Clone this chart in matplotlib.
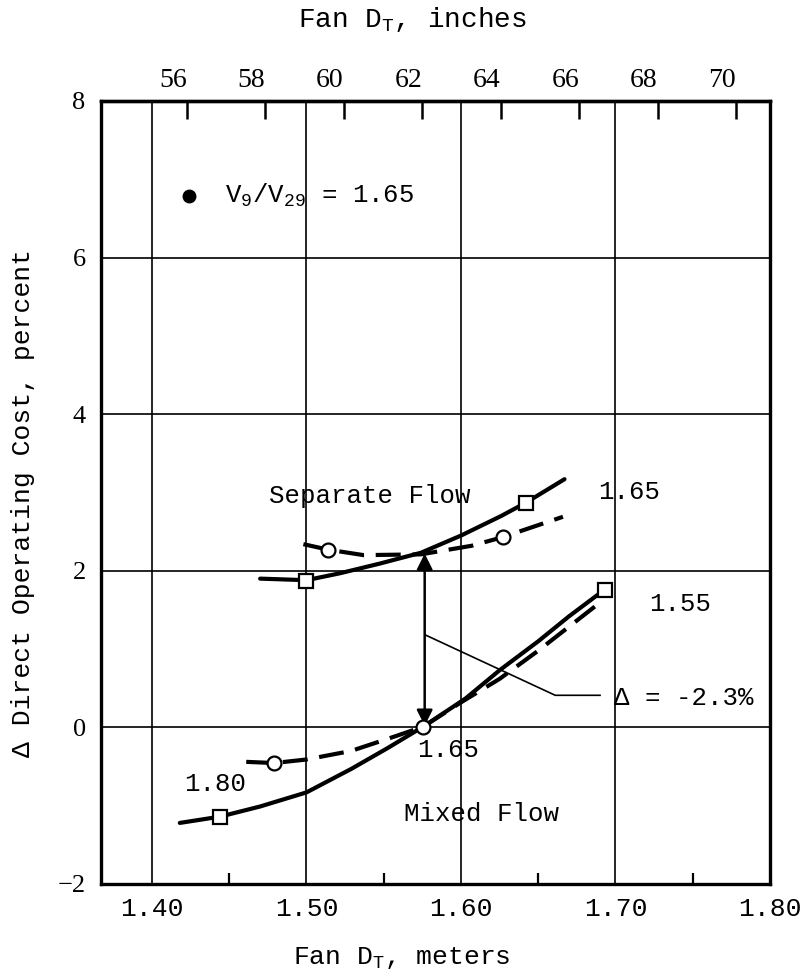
import matplotlib
matplotlib.use("Agg")
import matplotlib.pyplot as plt
import numpy as np

plt.rcParams['font.family'] = ['Liberation Mono', 'DejaVu Sans Mono']
plt.rcParams['mathtext.default'] = 'regular'

# ---- data ----
sep_solid_x = [1.470, 1.500, 1.522, 1.547, 1.574, 1.600, 1.626, 1.642, 1.667]
sep_solid_y = [1.90, 1.88, 1.97, 2.09, 2.23, 2.45, 2.70, 2.87, 3.17]
sep_solid_mx = [1.500, 1.642]
sep_solid_my = [1.87, 2.87]

sep_dash_x = [1.498, 1.514, 1.537, 1.574, 1.607, 1.627, 1.666]
sep_dash_y = [2.34, 2.27, 2.20, 2.21, 2.32, 2.43, 2.69]
sep_dash_mx = [1.514, 1.627]
sep_dash_my = [2.27, 2.43]

mix_solid_x = [1.418, 1.444, 1.470, 1.500, 1.529, 1.552, 1.5756, 1.603, 1.625, 1.650, 1.670, 1.693]
mix_solid_y = [-1.22, -1.14, -1.01, -0.83, -0.53, -0.27, 0.01, 0.37, 0.73, 1.10, 1.42, 1.76]
mix_solid_mx = [1.444, 1.693]
mix_solid_my = [-1.14, 1.76]

mix_dash_x = [1.461, 1.479, 1.500, 1.529, 1.558, 1.5756, 1.600, 1.625, 1.650, 1.689]
mix_dash_y = [-0.44, -0.455, -0.41, -0.30, -0.11, 0.01, 0.32, 0.62, 0.98, 1.58]
mix_dash_mx = [1.479, 1.5756]
mix_dash_my = [-0.455, 0.01]

x_major = [1.40, 1.50, 1.60, 1.70, 1.80]
x_minor = [1.45, 1.55, 1.65, 1.75]
x_labels = ['1.40', '1.50', '1.60', '1.70', '1.80']
y_major = [-2, 0, 2, 4, 6, 8]
y_labels = ['\u22122', '0', '2', '4', '6', '8']
top_ticks = [56, 58, 60, 62, 64, 66, 68, 70]

delta_x = 1.5765
delta_top, delta_bot = 2.22, 0.02
leader_x = [1.577, 1.661, 1.690]
leader_y = [1.18, 0.41, 0.41]

# ---- figure ----
fig = plt.figure(figsize=(8, 9.75), dpi=100)
ax = fig.add_axes([101/800, 91/975, 669/800, 783/975])
ax.set_xlim(1.367, 1.80)
ax.set_ylim(-2, 8)

for s in ax.spines.values():
    s.set_linewidth(2.4)

ax.set_xticks(x_major)
ax.set_xticklabels(x_labels, fontsize=19)
ax.set_xticks(x_minor, minor=True)
ax.set_yticks(y_major)
ax.set_yticklabels(y_labels, fontsize=19, family='Liberation Serif')
ax.tick_params(axis='x', which='major', length=0, pad=9)
ax.tick_params(axis='x', which='minor', direction='in', length=8, width=1.6)
ax.tick_params(axis='y', which='major', length=0, pad=11)
ax.grid(True, which='major', color='black', lw=1.2)
ax.set_axisbelow(True)

lw = 3.0
dash = (0, (6, 2.8))
ax.plot(sep_solid_x, sep_solid_y, color='black', lw=lw, solid_capstyle='round')
ax.plot(sep_dash_x, sep_dash_y, color='black', lw=lw, linestyle=dash)
ax.plot(mix_solid_x, mix_solid_y, color='black', lw=lw, solid_capstyle='round')
ax.plot(mix_dash_x, mix_dash_y, color='black', lw=lw, linestyle=dash)

ms_kw = dict(linestyle='none', markerfacecolor='white', markeredgecolor='black',
             markeredgewidth=1.6, zorder=5)
ax.plot(sep_solid_mx, sep_solid_my, marker='s', markersize=10, **ms_kw)
ax.plot(mix_solid_mx, mix_solid_my, marker='s', markersize=10, **ms_kw)
ax.plot(sep_dash_mx, sep_dash_my, marker='o', markersize=10, **ms_kw)
ax.plot(mix_dash_mx, mix_dash_my, marker='o', markersize=10, **ms_kw)

# double arrow
ax.annotate('', xy=(delta_x, delta_top), xytext=(delta_x, delta_bot),
            arrowprops=dict(arrowstyle='<|-|>', color='black', lw=1.8,
                            mutation_scale=24, shrinkA=0, shrinkB=0), zorder=4)
ax.plot(leader_x, leader_y, color='black', lw=1.2)

tkw = dict(fontsize=18.5, color='black')
ax.text(1.5407, 2.96, 'Separate Flow', ha='center', va='center', **tkw)
ax.text(1.709, 3.00, '1.65', ha='center', va='center', **tkw)
ax.text(1.742, 1.58, '1.55', ha='center', va='center', **tkw)
ax.text(1.699, 0.37, '\u0394 = -2.3%', ha='left', va='center', **tkw)
ax.text(1.5915, -0.29, '1.65', ha='center', va='center', **tkw)
ax.text(1.441, -0.72, '1.80', ha='center', va='center', **tkw)
ax.text(1.613, -1.10, 'Mixed Flow', ha='center', va='center', **tkw)
ax.plot([1.424], [6.79], marker='o', color='black', markersize=9, linestyle='none')
ax.text(1.447, 6.80, 'V$_9$/V$_{29}$ = 1.65', ha='left', va='center', **tkw)

ax.set_xlabel('Fan D$_T$, meters', fontsize=19)
ax.xaxis.set_label_coords((402 - 101) / 669, -0.078)
ax.set_ylabel('\u0394 Direct Operating Cost, percent', fontsize=19)
ax.yaxis.set_label_coords((35 - 101) / 669, (884 - 503) / 783)

# top axis in inches
sec = ax.secondary_xaxis('top', functions=(lambda m: np.asarray(m) / 0.0254,
                                           lambda i: np.asarray(i) * 0.0254))
sec.set_xticks(top_ticks)
sec.set_xticklabels([str(t) for t in top_ticks], fontsize=20,
                    family='Liberation Serif', ha='right')
sec.tick_params(direction='in', length=13, width=1.8, pad=6)
sec.spines['top'].set_linewidth(2.4)

fig.text(412 / 800, 1 - 20 / 975, 'Fan D$_T$, inches', ha='center', va='center',
         fontsize=20)

fig.savefig('out.png', dpi=100, facecolor='white')
